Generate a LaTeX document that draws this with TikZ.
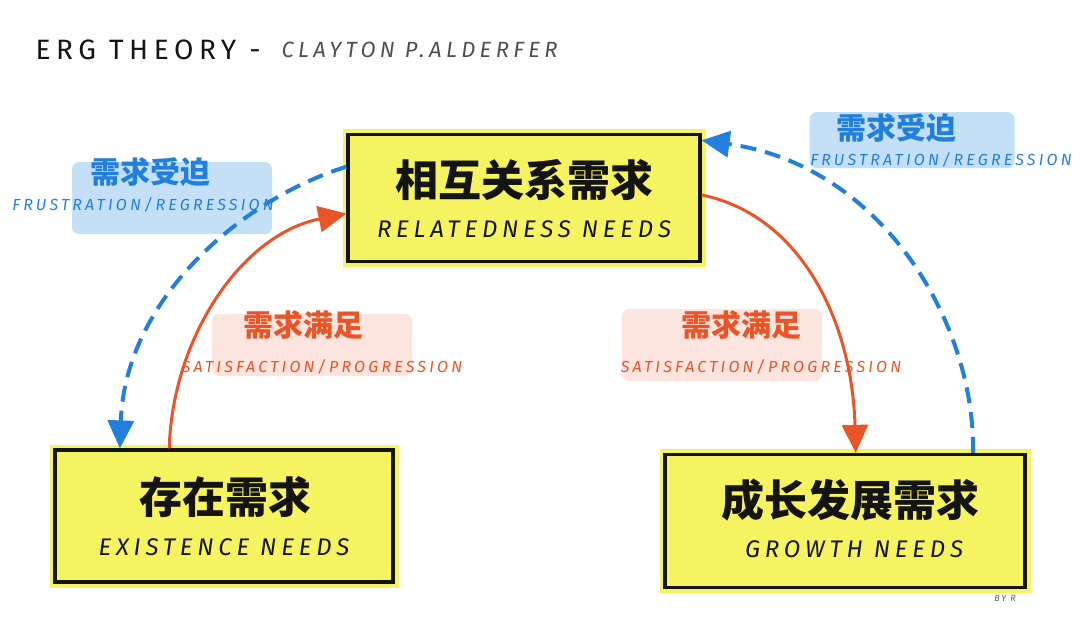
\documentclass[tikz,border=0pt]{standalone}
\usepackage{fontspec}
\setmainfont{Fira Sans}
\newfontfamily\cjk{Noto Sans CJK SC}
\newfontfamily\hand{Fira Sans}[LetterSpace=20]
\usetikzlibrary{arrows.meta, positioning, calc}
\definecolor{ink}{RGB}{20, 20, 20}
\definecolor{marker}{RGB}{246, 243, 96}
\definecolor{frustblue}{RGB}{34, 128, 220}
\definecolor{frustbg}{RGB}{196, 224, 247}
\definecolor{satisred}{RGB}{234, 84, 38}
\definecolor{satisbg}{RGB}{251, 229, 222}
\tikzset{
    needbox/.style={rectangle, draw=ink, line width=3.2pt, fill=marker, inner sep=0pt,
        preaction={draw=marker, line width=11pt}},
    cjktitle/.style={font=\cjk\bfseries\fontsize{43}{46}\selectfont, text=ink},
    entitle/.style={font=\hand\itshape\fontsize{24}{26}\selectfont, text=ink},
    brush/.style={rectangle, rounded corners=7pt, inner sep=0pt},
    tagcjk/.style={font=\cjk\bfseries\fontsize{30}{32}\selectfont},
    tagen/.style={font=\hand\itshape\fontsize{16}{18}\selectfont},
    frustarr/.style={-{Triangle[length=28pt,width=26pt]}, line width=4pt, frustblue, dash pattern=on 16pt off 9pt},
    satisarr/.style={-{Triangle[length=28pt,width=26pt]}, line width=3pt, satisred}
}
\begin{document}
\begin{tikzpicture}[x=1pt, y=-1pt]
    \useasboundingbox (0,0) rectangle (1080,638);
    % title
    \node[anchor=west, font=\hand\fontsize{28}{30}\selectfont, text=ink] (erg) at (32,50) {ERG THEORY -};
    \node[right=14pt of erg, font=\hand\itshape\fontsize{22}{24}\selectfont, text=ink!75] (author) {CLAYTON P.ALDERFER};

    % label backgrounds
    \node[brush, fill=frustbg, minimum width=200pt, minimum height=72pt] (bgfl) at (172,198) {};
    \node[brush, fill=frustbg, minimum width=205pt, minimum height=56pt] (bgfr) at (912,140) {};
    \node[brush, fill=satisbg, minimum width=200pt, minimum height=62pt] (bgsl) at (312,345) {};
    \node[brush, fill=satisbg, minimum width=200pt, minimum height=72pt] (bgsr) at (722,345) {};

    % needs
    \node[needbox, minimum width=352pt, minimum height=127pt] (rel) at (524,198) {};
    \node[cjktitle] (relzh) at (524,180) {相互关系需求};
    \node[entitle] (relen) at (524,229) {RELATEDNESS NEEDS};
    \node[needbox, minimum width=338pt, minimum height=132pt] (exi) at (224,516) {};
    \node[cjktitle] (exizh) at (225,497) {存在需求};
    \node[entitle] (exien) at (224,547) {EXISTENCE NEEDS};
    \node[needbox, minimum width=360pt, minimum height=133pt] (gro) at (845,521) {};
    \node[cjktitle] (grozh) at (850,500) {成长发展需求};
    \node[entitle] (groen) at (854,549) {GROWTH NEEDS};

    % tags
    \node[tagcjk, text=frustblue] (fl) at (150,172) {需求受迫};
    \node[tagen, text=frustblue] (fleng) at (143,205) {FRUSTRATION/REGRESSION};
    \node[tagcjk, text=frustblue] (fr) at (896,128) {需求受迫};
    \node[tagen, text=frustblue] (freng) at (941,160) {FRUSTRATION/REGRESSION};
    \node[tagcjk, text=satisred] (sl) at (303,325) {需求满足};
    \node[tagen, text=satisred] (sleng) at (322,367) {SATISFACTION/PROGRESSION};
    \node[tagcjk, text=satisred] (sr) at (741,325) {需求满足};
    \node[tagen, text=satisred] (sreng) at (761,367) {SATISFACTION/PROGRESSION};

    % connectors
    \draw[frustarr] (rel.170) .. controls (240,200) and (125,300) .. (exi.147);
    \draw[satisarr] (exi.129) .. controls (172,340) and (240,235) .. (rel.185);
    \draw[satisarr] (rel.1) .. controls (800,215) and (852,320) .. (gro.81);
    \draw[frustarr] (gro.28) .. controls (975,320) and (880,165) .. (rel.18);

    \node[font=\hand\itshape\fontsize{9}{10}\selectfont, text=ink!70] (sign) at (1005,598) {BY R};
\end{tikzpicture}
\end{document}
